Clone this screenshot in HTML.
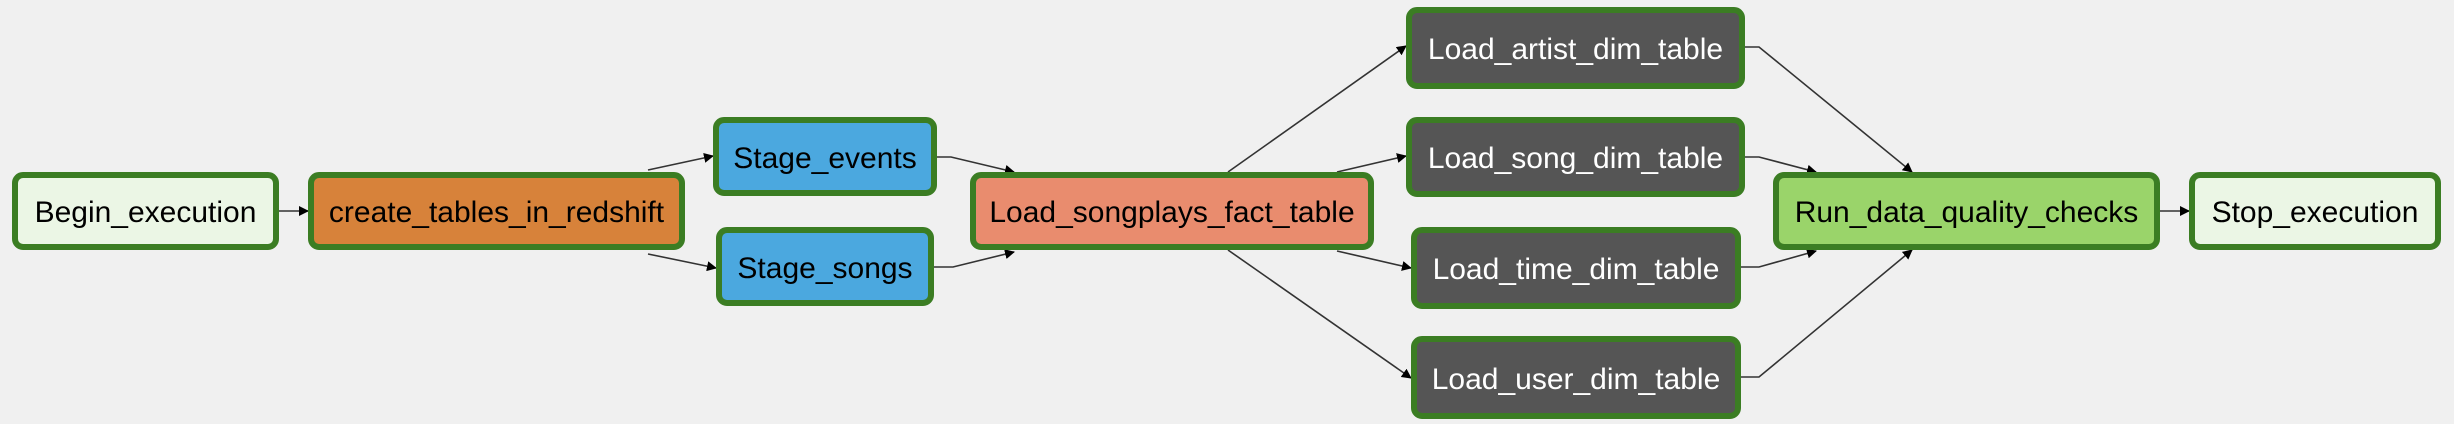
<!DOCTYPE html>
<html><head><meta charset="utf-8"><style>
html,body{margin:0;padding:0;background:#f0f0f0;}
body{width:2454px;height:424px;position:relative;overflow:hidden;font-family:"Liberation Sans",Arial,sans-serif;}
.n{position:absolute;box-sizing:border-box;border:6px solid #3b7d23;border-radius:11px;display:flex;align-items:center;justify-content:center;font-size:30px;color:#000;white-space:nowrap;padding-top:4px;}
.d{background:#555;color:#fff;}
svg{position:absolute;left:0;top:0;}
</style></head><body>
<svg width="2454" height="424">
<defs><marker id="a" markerWidth="10" markerHeight="10" refX="9" refY="5" orient="auto" markerUnits="userSpaceOnUse"><path d="M0,0 L10,5 L0,10 z" fill="#000"/></marker></defs>
<g fill="none" stroke="#333" stroke-width="1.6" marker-end="url(#a)">
<path d="M279,211 L308,211"/>
<path d="M648,170 L713,156"/>
<path d="M648,254 L716,268"/>
<path d="M937,157 L951,157 L1014,172"/>
<path d="M934,267 L953,267 L1014,252"/>
<path d="M1228,172 L1406,46"/>
<path d="M1337,172 L1406,156"/>
<path d="M1337,251 L1411,268"/>
<path d="M1228,250 L1411,378"/>
<path d="M1745,47 L1759,47 L1912,172"/>
<path d="M1745,157 L1759,157 L1816,172"/>
<path d="M1741,267 L1759,267 L1816,251"/>
<path d="M1741,377 L1759,377 L1912,250"/>
<path d="M2160,211 L2189,211"/>
</g>
</svg>
<div class="n" style="left:12px;top:172px;width:267px;height:78px;background:#ebf6e5;">Begin_execution</div>
<div class="n" style="left:308px;top:172px;width:377px;height:78px;background:#d7823a;">create_tables_in_redshift</div>
<div class="n" style="left:713px;top:117px;width:224px;height:79px;background:#4ba8df;">Stage_events</div>
<div class="n" style="left:716px;top:227px;width:218px;height:79px;background:#4ba8df;">Stage_songs</div>
<div class="n" style="left:970px;top:172px;width:404px;height:78px;background:#e98c6e;">Load_songplays_fact_table</div>
<div class="n d" style="left:1406px;top:7px;width:339px;height:82px;">Load_artist_dim_table</div>
<div class="n d" style="left:1406px;top:117px;width:339px;height:80px;">Load_song_dim_table</div>
<div class="n d" style="left:1411px;top:227px;width:330px;height:82px;">Load_time_dim_table</div>
<div class="n d" style="left:1411px;top:336px;width:330px;height:83px;">Load_user_dim_table</div>
<div class="n" style="left:1773px;top:172px;width:387px;height:78px;background:#9ad46a;">Run_data_quality_checks</div>
<div class="n" style="left:2189px;top:172px;width:252px;height:78px;background:#ebf6e5;">Stop_execution</div>
</body></html>
